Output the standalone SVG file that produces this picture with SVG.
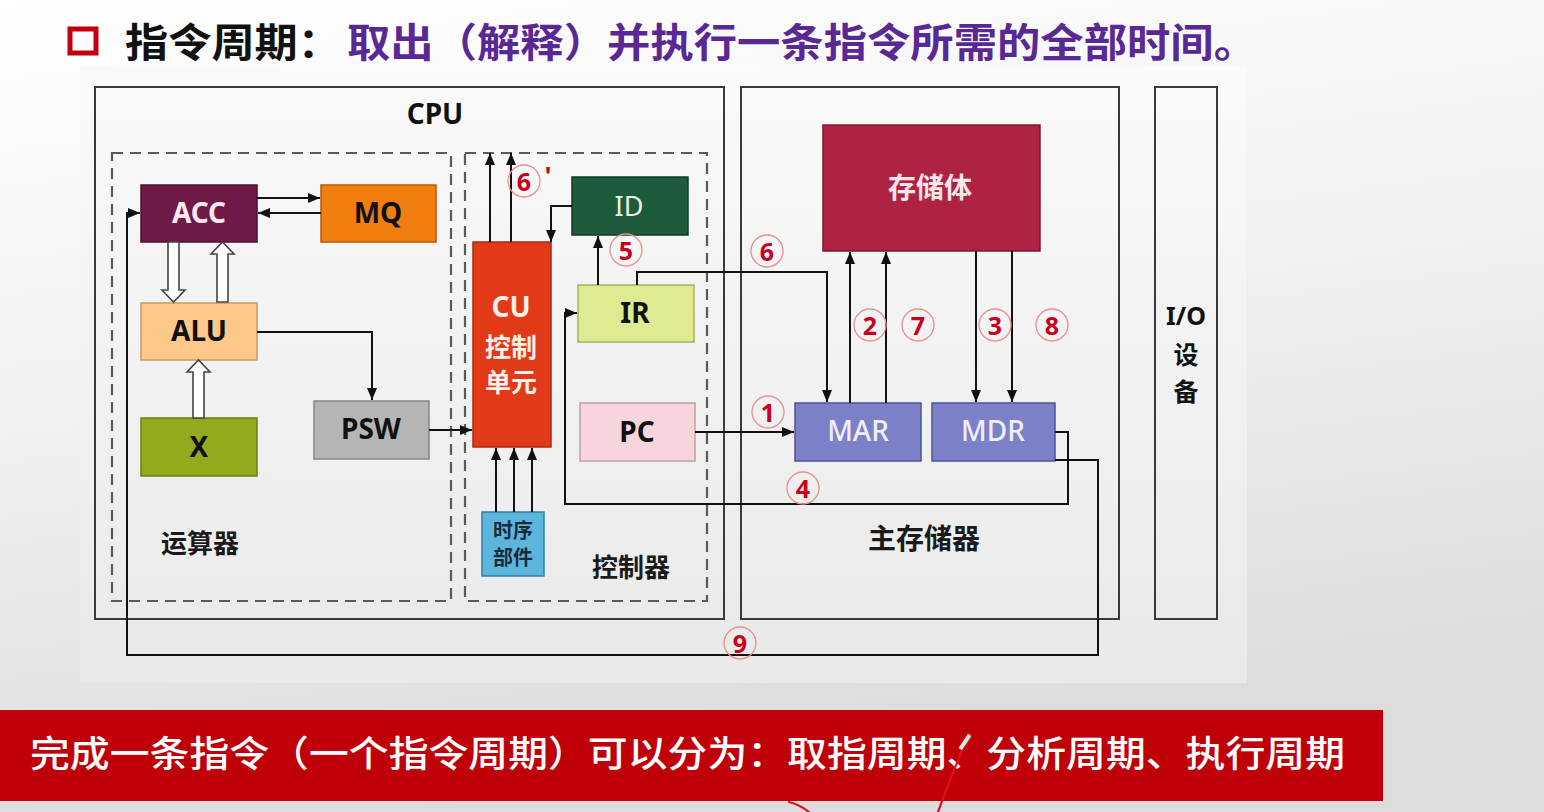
<svg xmlns="http://www.w3.org/2000/svg" width="1544" height="812" viewBox="0 0 1544 812">
  <defs>
    <linearGradient id="pageBg" x1="0" y1="0" x2="0.25" y2="1">
      <stop offset="0" stop-color="#ffffff"/>
      <stop offset="0.5" stop-color="#f0f0f0"/>
      <stop offset="1" stop-color="#dcdcdc"/>
    </linearGradient>
    <linearGradient id="panelBg" x1="0" y1="0" x2="0" y2="1">
      <stop offset="0" stop-color="#fafafa"/>
      <stop offset="1" stop-color="#e9e9e9"/>
    </linearGradient>
    <marker id="arrow" viewBox="0 0 12 10" refX="12" refY="5" markerWidth="12" markerHeight="10" markerUnits="userSpaceOnUse" orient="auto">
      <path d="M0,0 L12,5 L0,10 z" fill="#111"/>
    </marker>
    <style>
      .frame { fill: none; stroke: #3a3a3a; stroke-width: 2; }
      .dash { fill: none; stroke: #5a5a5a; stroke-width: 2.2; stroke-dasharray: 11 7; }
      .box { stroke-width: 1.5; }
      .lbl { font-family: "Noto Sans", "Noto Sans CJK SC", sans-serif; font-weight: 700; text-anchor: middle; dominant-baseline: central; }
      .cjk { font-family: "Noto Sans CJK SC", "Noto Sans", sans-serif; font-weight: 700; text-anchor: middle; dominant-baseline: central; }
      .wire { fill: none; stroke: #111; stroke-width: 2; }
      .hollow { fill: #ffffff; stroke: #444; stroke-width: 1.6; }
      .step circle { fill: none; stroke: #e89090; stroke-width: 1.3; }
      .step text { font-family: "Noto Sans", sans-serif; font-weight: 700; font-size: 25px; fill: #c8001e; text-anchor: middle; dominant-baseline: central; }
    </style>
  </defs>

  <!-- slide background and diagram panel -->
  <rect x="0" y="0" width="1544" height="812" fill="url(#pageBg)"/>
  <rect x="80" y="66" width="1167" height="617" fill="url(#panelBg)"/>

  <!-- title line -->
  <g id="title">
    <rect x="70" y="29" width="26" height="24" fill="none" stroke="#c00010" stroke-width="5"/>
    <text x="125" y="57" font-family="Noto Sans CJK SC, sans-serif" font-weight="700" font-size="40" fill="#111" textLength="216" lengthAdjust="spacingAndGlyphs">指令周期：</text>
    <text x="347" y="57" font-family="Noto Sans CJK SC, sans-serif" font-weight="700" font-size="40" fill="#5a2894" textLength="910" lengthAdjust="spacingAndGlyphs">取出（解释）并执行一条指令所需的全部时间。</text>
  </g>

  <!-- CPU frame -->
  <g id="cpu">
    <rect class="frame" x="95" y="87" width="629" height="532"/>
    <text class="lbl" x="435" y="113" font-size="28" fill="#111">CPU</text>
  </g>
  <g id="alu-unit">
    <rect class="dash" x="112" y="153" width="339" height="448"/>
    <text class="cjk" x="200" y="541" font-size="26" fill="#1a1a1a">运算器</text>
  </g>
  <g id="control-unit">
    <rect class="dash" x="465" y="153" width="242" height="448"/>
    <text class="cjk" x="631" y="565" font-size="26" fill="#1a1a1a">控制器</text>
  </g>

  <!-- main memory frame -->
  <g id="main-memory">
    <rect class="frame" x="741" y="87" width="378" height="532"/>
    <text class="cjk" x="924" y="537" font-size="28" fill="#1a1a1a">主存储器</text>
  </g>

  <!-- I/O frame -->
  <g id="io">
    <rect class="frame" x="1155" y="87" width="62" height="532"/>
    <text class="lbl" x="1186" y="315" font-size="25" fill="#111" font-family="Liberation Serif, serif">I/O</text>
    <text class="cjk" x="1186" y="353" font-size="25" fill="#111">设</text>
    <text class="cjk" x="1186" y="390" font-size="25" fill="#111">备</text>
  </g>

  <!-- registers and units -->
  <g id="acc">
    <rect class="box" x="141" y="185" width="116" height="57" fill="#6f1946" stroke="#4d0f30"/>
    <text class="lbl" x="199" y="212" font-size="28" fill="#ffe8f2">ACC</text>
  </g>
  <g id="mq">
    <rect class="box" x="321" y="185" width="115" height="57" fill="#f27e10" stroke="#b85a05"/>
    <text class="lbl" x="378" y="212" font-size="28" fill="#111">MQ</text>
  </g>
  <g id="alu">
    <rect class="box" x="141" y="303" width="116" height="57" fill="#fdc98a" stroke="#c89a60"/>
    <text class="lbl" x="199" y="330" font-size="28" fill="#111">ALU</text>
  </g>
  <g id="x">
    <rect class="box" x="141" y="418" width="116" height="58" fill="#94aa1c" stroke="#6d7e10"/>
    <text class="lbl" x="199" y="446" font-size="28" fill="#111">X</text>
  </g>
  <g id="psw">
    <rect class="box" x="314" y="401" width="115" height="58" fill="#b5b5b5" stroke="#858585"/>
    <text class="lbl" x="371" y="428" font-size="28" fill="#111">PSW</text>
  </g>
  <g id="cu">
    <rect class="box" x="473" y="242" width="78" height="205" fill="#e23a18" stroke="#a82a10"/>
    <text class="lbl" x="511" y="306" font-size="28" fill="#fff0e8">CU</text>
    <text class="cjk" x="511" y="345" font-size="26" fill="#fff0e8">控制</text>
    <text class="cjk" x="511" y="380" font-size="26" fill="#fff0e8">单元</text>
  </g>
  <g id="id">
    <rect class="box" x="572" y="177" width="116" height="58" fill="#1e5b3b" stroke="#0f3a24"/>
    <text class="lbl" x="629" y="205" font-size="27" fill="#e6f2e6" style="font-weight:400">ID</text>
  </g>
  <g id="ir">
    <rect class="box" x="578" y="285" width="116" height="57" fill="#dfe990" stroke="#a8b060"/>
    <text class="lbl" x="635" y="312" font-size="28" fill="#111">IR</text>
  </g>
  <g id="pc">
    <rect class="box" x="580" y="403" width="115" height="58" fill="#f6d6dc" stroke="#bda0a6"/>
    <text class="lbl" x="637" y="431" font-size="28" fill="#111">PC</text>
  </g>
  <g id="timing">
    <rect class="box" x="482" y="512" width="62" height="64" fill="#5cb5dd" stroke="#2f7ea3"/>
    <text class="cjk" x="513" y="529" font-size="20" fill="#1a2a3a">时序</text>
    <text class="cjk" x="513" y="556" font-size="20" fill="#1a2a3a">部件</text>
  </g>
  <g id="storage">
    <rect class="box" x="823" y="125" width="217" height="126" fill="#ad2341" stroke="#7e1830"/>
    <text class="cjk" x="930" y="186" font-size="28" fill="#fbe6ea">存储体</text>
  </g>
  <g id="mar">
    <rect class="box" x="795" y="403" width="126" height="58" fill="#7b80c9" stroke="#4f5390"/>
    <text class="lbl" x="858" y="430" font-size="28" fill="#eef0ff" style="font-weight:500">MAR</text>
  </g>
  <g id="mdr">
    <rect class="box" x="932" y="403" width="123" height="58" fill="#7b80c9" stroke="#4f5390"/>
    <text class="lbl" x="993" y="430" font-size="28" fill="#eef0ff" style="font-weight:500">MDR</text>
  </g>

  <!-- data paths -->
  <g id="connectors">
    <path class="wire" d="M257,198 H320" marker-end="url(#arrow)"/>
    <path class="wire" d="M321,213 H258" marker-end="url(#arrow)"/>
    <!-- bus arrows between ACC, ALU and X -->
    <polygon class="hollow" points="168,242 179,242 179,290 185,290 173.5,302 162,290 168,290"/>
    <polygon class="hollow" points="217,302 228,302 228,254 234,254 222.5,242 211,254 217,254"/>
    <polygon class="hollow" points="193,418 204,418 204,372 210,372 198.5,360 187,372 193,372"/>
    <path class="wire" d="M257,332 H372 V400" marker-end="url(#arrow)"/>
    <path class="wire" d="M429,430 H472" marker-end="url(#arrow)"/>
    <path class="wire" d="M496,512 V448" marker-end="url(#arrow)"/>
    <path class="wire" d="M514,512 V448" marker-end="url(#arrow)"/>
    <path class="wire" d="M532,512 V448" marker-end="url(#arrow)"/>
    <path class="wire" d="M490,242 V153" marker-end="url(#arrow)"/>
    <path class="wire" d="M511,242 V153" marker-end="url(#arrow)"/>
    <path class="wire" d="M572,206 H551 V242" marker-end="url(#arrow)"/>
    <path class="wire" d="M598,285 V236" marker-end="url(#arrow)"/>
    <path class="wire" d="M637,285 V272 H827 V402" marker-end="url(#arrow)"/>
    <path class="wire" d="M695,432 H794" marker-end="url(#arrow)"/>
    <path class="wire" d="M850,403 V252" marker-end="url(#arrow)"/>
    <path class="wire" d="M886,403 V252" marker-end="url(#arrow)"/>
    <path class="wire" d="M976,251 V402" marker-end="url(#arrow)"/>
    <path class="wire" d="M1012,251 V402" marker-end="url(#arrow)"/>
    <path class="wire" d="M1055,432 H1068 V504 H565 V313 H577" marker-end="url(#arrow)"/>
    <path class="wire" d="M1055,460 H1098 V655 H127 V213 H140" marker-end="url(#arrow)"/>
  </g>

  <!-- step numbers -->
  <g id="steps">
    <g class="step"><circle cx="768" cy="412" r="16"/><text x="768" y="412">1</text></g>
    <g class="step"><circle cx="870" cy="325" r="16"/><text x="870" y="325">2</text></g>
    <g class="step"><circle cx="995" cy="325" r="16"/><text x="995" y="325">3</text></g>
    <g class="step"><circle cx="803" cy="488" r="16"/><text x="803" y="488">4</text></g>
    <g class="step"><circle cx="626" cy="250" r="16"/><text x="626" y="250">5</text></g>
    <g class="step"><circle cx="767" cy="251" r="16"/><text x="767" y="251">6</text></g>
    <g class="step"><circle cx="524" cy="181" r="16"/><text x="524" y="181">6</text><text x="548" y="175" font-size="20px">'</text></g>
    <g class="step"><circle cx="918" cy="325" r="16"/><text x="918" y="325">7</text></g>
    <g class="step"><circle cx="1052" cy="325" r="16"/><text x="1052" y="325">8</text></g>
    <g class="step"><circle cx="740" cy="643" r="16"/><text x="740" y="643">9</text></g>
  </g>

  <!-- summary banner -->
  <g id="banner">
    <rect x="0" y="710" width="1383" height="91" fill="#c00008"/>
    <text x="30" y="767" font-family="Noto Sans CJK SC, sans-serif" font-weight="500" font-size="36" fill="#ffffff" textLength="1315" lengthAdjust="spacingAndGlyphs">完成一条指令（一个指令周期）可以分为：取指周期、分析周期、执行周期</text>
  </g>

  <!-- hand-drawn pen strokes -->
  <g id="pen-marks" fill="none" stroke="#e0101a" stroke-width="2.2" stroke-linecap="round">
    <path d="M967,738 C958,760 948,785 938,812"/>
    <path d="M789,802 C797,804 804,808 809,812"/>
  </g>
  <g id="pen-cursor">
    <path d="M958,748 L968,733 L972,736 L962,751 z" fill="#d8e8e0" stroke="#c02020" stroke-width="1.2"/>
  </g>
</svg>
